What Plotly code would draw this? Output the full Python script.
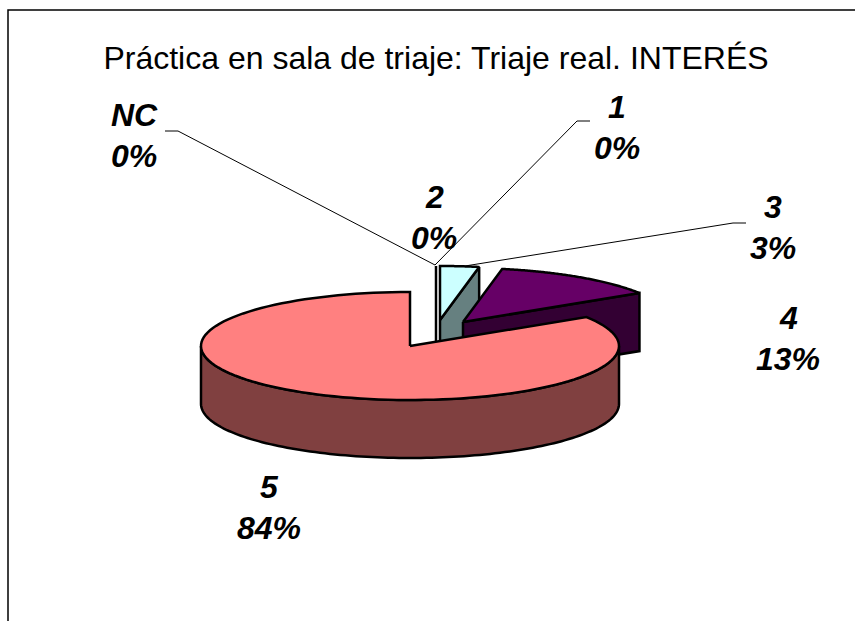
import math
import plotly.graph_objects as go

# ---- data ----
categories = ["1", "2", "3", "4", "5", "NC"]
values = [0.0, 0.0, 3.0, 13.0, 84.0, 0.0]
title_text = "Práctica en sala de triaje: Triaje real. INTERÉS"

# ---- style: slice apex (pixels), colours ----
apex = {"1": (436, 342), "2": (436, 342), "3": (440, 320), "4": (463, 322), "5": (410, 346), "NC": (436, 342)}
top_colors = {"3": "#CCFFFF", "4": "#660066", "5": "#FF8080"}
side_colors = {"3": "#668080", "4": "#330033", "5": "#804040"}
RX, RY, DEPTH = 209, 54, 58
label_pos = {"1": (617, 107), "2": (434, 197), "3": (773, 207), "4": (788, 318), "5": (269, 487), "NC": (134, 115)}
LINE_GAP = 41
leaders = {
    "NC": ([165, 178, 435], [131, 131, 265]),
    "1": ([590, 577, 435], [121, 121, 265]),
    "3": ([746, 733, 465], [223, 223, 266]),
}

# angles clockwise from 12 o'clock, derived from values
total = sum(values)
spans = {}
acc = 0.0
for c, v in zip(categories, values):
    spans[c] = (acc / total * 360, (acc + v) / total * 360)
    acc += v


def pt(c, deg, dz=0):
    ax, ay = apex[c]
    t = math.radians(deg)
    return ax + RX * math.sin(t), ay - RY * math.cos(t) + dz


def arc(c, a, b, dz=0, n=120):
    pts = [pt(c, a + (b - a) * i / n, dz) for i in range(n + 1)]
    return [p[0] for p in pts], [p[1] for p in pts]


fig = go.Figure()


def poly(xs, ys, color):
    fig.add_trace(go.Scatter(x=xs, y=ys, mode="lines", fill="toself", fillcolor=color,
                             line=dict(color="black", width=2.5, simplify=False), hoverinfo="skip", showlegend=False))


def line(xs, ys, w=1):
    fig.add_trace(go.Scatter(x=xs, y=ys, mode="lines", line=dict(color="black", width=w),
                             hoverinfo="skip", showlegend=False))


# frame: left and top only, cut by the picture edges
line([8, 8, 855], [621, 10, 10], 1.5)

# zero-size slices collapse to a single vertical edge
zero_x = apex["2"][0]
line([zero_x, zero_x], [266, apex["2"][1]], 2.5)

for c in ["3", "4", "5"]:
    a, b = spans[c]
    ax, ay = apex[c]
    if c in ("3", "4"):
        ox, oy = pt(c, b)
        poly([ax, ox, ox, ax, ax], [ay, oy, oy + DEPTH, ay + DEPTH, ay], side_colors[c])
    else:
        x1, y1 = arc(c, 90, 270)
        x2, y2 = arc(c, 270, 90, DEPTH)
        poly(x1 + x2 + x1[:1], y1 + y2 + y1[:1], side_colors[c])
    xa, ya = arc(c, a, b)
    poly([ax] + xa + [ax], [ay] + ya + [ay], top_colors[c])

for c, (xs, ys) in leaders.items():
    line(xs, ys, 1)

annotations = []
for c, v in zip(categories, values):
    x, y = label_pos[c]
    for i, s in enumerate([c, f"{v / total * 100:.0f}%"]):
        annotations.append(dict(x=x, y=y + i * LINE_GAP, xref="x", yref="y", text=f"<b><i>{s}</i></b>",
                                showarrow=False, xanchor="center", yanchor="middle",
                                font=dict(family="Liberation Sans", size=32, color="black")))

fig.update_layout(
    width=855, height=621, margin=dict(l=0, r=0, t=0, b=0),
    paper_bgcolor="white", plot_bgcolor="white", showlegend=False,
    title=dict(text=title_text, x=436 / 855, xanchor="center", y=1 - 58 / 621, yanchor="middle",
               font=dict(family="Liberation Sans", size=32, color="black")),
    xaxis=dict(range=[0, 855], visible=False, fixedrange=True),
    yaxis=dict(range=[621, 0], visible=False, fixedrange=True),
    annotations=annotations,
)
fig.write_html("out.html", config={"displayModeBar": False},
               post_script="document.body.style.margin='0';document.body.style.overflow='hidden';")
